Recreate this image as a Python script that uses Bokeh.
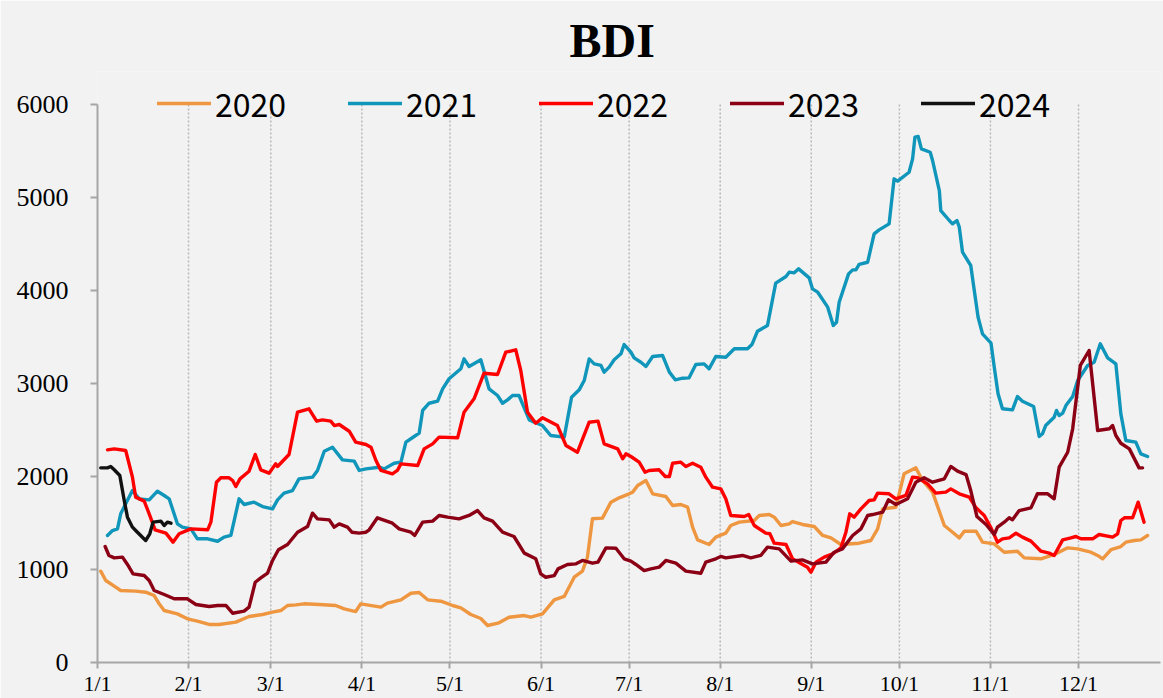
from bokeh.plotting import figure
from bokeh.models import FixedTicker, Legend, LegendItem
from bokeh.embed import file_html
from bokeh.resources import INLINE

# ---- axis data ----
month_days = [0, 31, 59, 90, 120, 151, 181, 212, 243, 273, 304, 334]
month_labels = ["1/1", "2/1", "3/1", "4/1", "5/1", "6/1", "7/1", "8/1", "9/1", "10/1", "11/1", "12/1"]
y_ticks = [0, 1000, 2000, 3000, 4000, 5000, 6000]
years = ["2020", "2021", "2022", "2023", "2024"]

# ---- series (day of year, BDI) ----
days_2020 = [1.1, 2.8, 6.2, 7.9, 13.0, 16.4, 19.3, 21.0, 22.7, 27.2, 30.6, 34.0, 38.0, 41.4, 47.1, 51.6, 56.2,
             59.6, 62.4, 64.7, 67.5, 70.3, 75.5, 81.1, 84.0, 87.9, 89.6, 96.5, 98.7, 103.3, 106.7, 109.5, 112.4,
             116.9, 120.9, 123.7, 127.1, 130.5, 132.8, 136.7, 140.1, 145.3, 147.5, 151.5, 155.5, 158.9, 162.3,
             165.1, 166.8, 168.5, 171.9, 174.8, 177.6, 181.0, 182.2, 183.9, 186.7, 189.0, 193.5, 195.8, 198.6,
             200.9, 202.6, 204.3, 208.2, 210.5, 213.9, 215.6, 218.5, 223.6, 225.3, 228.7, 230.4, 232.7, 235.5,
             236.6, 240.0, 244.0, 246.9, 249.7, 253.1, 259.3, 263.3, 265.6, 267.3, 271.8, 274.6, 278.6, 280.9,
             284.3, 288.3, 291.1, 293.4, 295.1, 299.1, 301.3, 305.3, 308.7, 313.2, 315.5, 321.2, 326.3, 330.3,
             333.7, 338.2, 340.5, 342.2, 345.1, 348.4, 350.1, 353.0, 355.2, 357.5]
bdi_2020 = [982, 882, 810, 774, 767, 756, 720, 631, 559, 523, 470, 444, 409, 409, 434, 495, 516,
            541, 559, 613, 620, 631, 624, 613, 577, 548, 631, 595, 638, 674, 745, 753, 674,
            659, 613, 588, 516, 473, 398, 427, 487, 505, 487, 523, 674, 710, 917,
            982, 1132, 1545, 1552, 1724, 1771, 1814, 1832, 1903, 1957, 1814, 1785, 1688, 1699,
            1670, 1455, 1319, 1269, 1348, 1391, 1473, 1509, 1527, 1581, 1591, 1563, 1473, 1491,
            1516, 1484, 1462, 1366, 1340, 1269, 1283, 1312, 1437, 1652, 1670, 2029, 2093, 1957,
            1832, 1473, 1401, 1340, 1412, 1412, 1294, 1276, 1186, 1197, 1125, 1115, 1169, 1233,
            1222, 1186, 1151, 1115, 1215, 1247, 1294, 1312, 1319, 1366]

days_2021 = [3.4, 5.1, 6.8, 7.9, 9.6, 11.9, 14.2, 17.6, 20.4, 22.7, 24.4, 27.2, 28.9, 31.8, 34.0, 37.5, 40.9,
             43.1, 45.4, 48.2, 49.9, 53.3, 56.2, 59.6, 61.3, 63.5, 66.4, 68.6, 73.2, 74.9, 77.2, 80.0, 83.4,
             87.4, 89.1, 91.4, 95.9, 97.6, 101.0, 103.3, 105.0, 107.8, 109.5, 110.7, 112.9, 115.8, 117.5,
             119.7, 123.7, 124.8, 126.5, 130.5, 133.3, 136.2, 137.9, 139.6, 141.3, 143.5, 147.0, 148.7,
             151.5, 154.3, 158.9, 161.4, 164.0, 165.7, 167.4, 169.1, 171.4, 172.5, 174.2, 175.9, 178.2,
             179.3, 181.6, 182.7, 185.0, 186.7, 189.0, 192.4, 194.7, 196.7, 199.2, 201.4, 203.7, 206.5,
             208.2, 210.5, 213.9, 216.8, 221.3, 222.8, 224.7, 228.1, 230.9, 234.4, 235.5, 237.2, 238.7,
             242.3, 243.4, 245.2, 248.6, 250.5, 251.6, 252.5, 255.7, 257.1, 258.2, 259.3, 262.2, 264.4,
             266.1, 269.5, 271.2, 272.4, 276.3, 277.5, 278.3, 279.4, 280.5, 283.5, 284.3, 286.6, 287.1,
             290.0, 291.1, 292.6, 293.4, 294.5, 297.3, 298.5, 299.8, 301.3, 304.2, 305.3, 306.6, 308.1,
             311.5, 313.2, 314.9, 318.7, 320.6, 321.7, 322.8, 325.7, 326.5, 327.4, 328.6, 329.7, 332.0,
             333.7, 337.1, 339.3, 341.4, 343.9, 346.7, 348.4, 350.1, 353.5, 355.2, 357.5]
bdi_2021 = [1366, 1419, 1437, 1599, 1706, 1849, 1760, 1749, 1842, 1796, 1760, 1491, 1455, 1437, 1330, 1330, 1304,
            1348, 1366, 1760, 1699, 1724, 1677, 1652, 1749, 1821, 1849, 1975, 1993, 2065, 2272, 2315, 2179,
            2165, 2065, 2082, 2100, 2082, 2143, 2154, 2369, 2430, 2466, 2710, 2788, 2810, 2943,
            3051, 3158, 3265, 3183, 3255, 2943, 2871, 2788, 2824, 2871, 2871, 2609, 2584,
            2548, 2441, 2423, 2853, 2932, 3032, 3265, 3211, 3194, 3122, 3176, 3255, 3319,
            3419, 3337, 3276, 3229, 3183, 3290, 3301, 3122, 3040, 3057, 3061, 3204, 3211,
            3158, 3290, 3283, 3373, 3373, 3419, 3563, 3624, 4079, 4151, 4197, 4190, 4233,
            4136, 4018, 3982, 3821, 3624, 3659, 3874, 4179, 4222, 4222, 4280, 4304, 4609,
            4652, 4717, 5201, 5176, 5272, 5416, 5649, 5656, 5523, 5487, 5398, 5075, 4860,
            4753, 4717, 4753, 4681, 4412, 4269, 4000, 3713, 3534, 3434, 3176, 2889, 2728,
            2717, 2860, 2810, 2753, 2430, 2459, 2548, 2638, 2710, 2656, 2681, 2763, 2860,
            3032, 3194, 3229, 3427, 3276, 3211, 2674, 2387, 2369, 2244, 2215]

days_2022 = [3.4, 5.7, 9.6, 11.9, 13.0, 15.9, 17.6, 19.6, 23.3, 25.7, 27.8, 31.8, 37.5, 38.6, 40.5, 42.0, 44.8,
             46.0, 47.1, 48.5, 51.6, 53.7, 55.6, 58.4, 60.7, 61.3, 65.2, 68.1, 72.0, 74.6, 76.6, 79.4, 80.6,
             82.3, 85.7, 87.9, 91.4, 93.1, 94.8, 96.5, 100.4, 102.1, 103.3, 109.0, 111.2, 114.1, 116.3,
             122.6, 124.8, 128.2, 131.6, 136.2, 139.0, 142.4, 144.1, 146.4, 149.2, 151.5, 156.6, 159.5,
             163.4, 167.4, 170.4, 172.5, 177.1, 178.8, 179.9, 181.6, 184.4, 186.4, 187.8, 191.2, 193.3,
             194.7, 195.8, 198.6, 200.3, 202.6, 205.4, 207.1, 209.4, 212.2, 213.9, 215.6, 220.2, 221.7,
             223.6, 227.5, 228.9, 230.4, 234.4, 236.6, 241.7, 242.9, 244.6, 247.4, 250.3, 253.1, 254.8,
             256.1, 257.6, 259.9, 262.7, 264.4, 265.6, 269.5, 271.8, 275.2, 277.5, 279.2, 282.6, 285.4,
             288.8, 290.5, 293.4, 296.8, 299.1, 301.9, 304.2, 306.4, 308.1, 310.4, 312.7, 314.9, 317.8,
             321.2, 324.0, 325.7, 328.6, 331.4, 333.1, 334.8, 338.8, 341.0, 345.6, 347.3, 348.4, 349.6,
             352.4, 354.3, 356.3]
bdi_2022 = [2287, 2297, 2280, 1993, 1778, 1735, 1599, 1427, 1391, 1294, 1384, 1437, 1427, 1509, 1939, 1986, 1986,
            1957, 1892, 1975, 2057, 2237, 2072, 2036, 2136, 2108, 2237, 2692, 2728, 2595, 2609, 2595, 2548,
            2559, 2487, 2369, 2344, 2315, 2172, 2065, 2029, 2065, 2136, 2118, 2297, 2351, 2423,
            2416, 2692, 2835, 3111, 3097, 3337, 3362, 3140, 2692, 2573, 2631, 2548, 2333,
            2261, 2584, 2595, 2351, 2297, 2190, 2244, 2215, 2154, 2046, 2065, 2072, 2000,
            2000, 2143, 2154, 2108, 2143, 2100, 1993, 1885, 1867, 1760, 1581, 1570, 1591,
            1473, 1391, 1384, 1283, 1269, 1115, 1025, 971, 1079, 1133, 1169, 1233, 1401,
            1599, 1563, 1652, 1742, 1749, 1821, 1814, 1760, 1796, 1993, 1986, 1921, 1821,
            1832, 1867, 1814, 1778, 1663, 1581, 1448, 1294, 1330, 1340, 1391, 1348, 1305,
            1197, 1176, 1151, 1319, 1340, 1355, 1330, 1330, 1376, 1348, 1384, 1527, 1556,
            1556, 1724, 1509]

days_2023 = [2.6, 3.9, 5.7, 8.5, 10.2, 12.1, 15.9, 17.6, 19.3, 22.7, 26.1, 30.6, 33.5, 38.0, 40.9, 43.7, 46.0,
             49.9, 51.6, 53.7, 55.6, 57.9, 59.6, 61.6, 64.7, 68.1, 71.5, 73.2, 74.9, 78.9, 80.6, 82.3, 85.1,
             86.6, 89.1, 91.4, 92.5, 95.3, 100.4, 102.7, 106.7, 108.0, 110.7, 114.1, 116.3, 119.2, 123.1,
             126.5, 129.4, 131.6, 134.5, 137.9, 141.8, 145.3, 149.2, 150.9, 152.6, 155.5, 156.8, 160.0,
             162.9, 165.1, 168.5, 170.4, 173.1, 176.5, 179.3, 181.6, 183.3, 186.1, 188.4, 191.2, 193.5,
             196.9, 200.3, 205.4, 207.1, 210.5, 212.2, 213.9, 219.6, 222.4, 225.8, 228.1, 232.1, 236.1,
             240.0, 243.4, 248.0, 250.8, 253.6, 257.1, 259.9, 262.2, 263.9, 267.3, 269.3, 271.8, 275.8,
             278.6, 281.4, 284.3, 288.3, 290.5, 292.8, 295.7, 297.3, 299.4, 302.5, 305.3, 306.4, 308.7,
             310.4, 311.5, 313.8, 317.8, 320.0, 323.5, 325.7, 327.4, 330.3, 332.0, 334.6, 337.6, 340.5,
             344.5, 345.6, 346.7, 348.4, 351.3, 354.6, 355.8]
bdi_2023 = [1247, 1151, 1125, 1133, 1054, 953, 935, 882, 774, 731, 685, 685, 624, 602, 613, 613, 530,
            552, 595, 863, 910, 960, 1097, 1212, 1269, 1401, 1462, 1606, 1545, 1534, 1455, 1491, 1455,
            1401, 1391, 1401, 1427, 1556, 1498, 1437, 1401, 1366, 1509, 1520, 1581, 1563, 1545,
            1581, 1634, 1556, 1520, 1401, 1355, 1176, 1115, 953, 917, 935, 1007, 1054,
            1061, 1097, 1068, 1079, 1233, 1229, 1115, 1090, 1054, 989, 1007, 1025, 1097,
            1068, 982, 960, 1079, 1115, 1140, 1125, 1151, 1125, 1151, 1240, 1222, 1090,
            1104, 1061, 1079, 1186, 1222, 1366, 1437, 1581, 1591, 1616, 1749, 1699, 1760,
            1939, 1986, 1939, 1975, 2108, 2057, 2021, 1849, 1570, 1484, 1376, 1455, 1509,
            1556, 1534, 1634, 1663, 1814, 1814, 1760, 2100, 2261, 2513, 3194, 3355, 2495,
            2513, 2548, 2441, 2358, 2297, 2093, 2093]

days_2024 = [1.1, 3.4, 4.5, 5.7, 7.6, 9.1, 10.2, 11.9, 13.0, 16.4, 17.8, 18.9, 21.6, 22.7, 23.8, 25.0]
bdi_2024 = [2093, 2093, 2108, 2072, 2011, 1742, 1563, 1455, 1419, 1312, 1384, 1509, 1520, 1473, 1509, 1498]

series_days = [days_2020, days_2021, days_2022, days_2023, days_2024]
series_vals = [bdi_2020, bdi_2021, bdi_2022, bdi_2023, bdi_2024]
colors = ["#EE9640", "#1096BA", "#FF0000", "#8B0014", "#111111"]

SERIF = "Liberation Serif"
AXIS_GRAY = "#a6a6a6"

# frame: left 97, right 1160, top 71, bottom 662 (93 px per 1000)
p = figure(width=1163, height=698, x_range=(0, 361.9), y_range=(0, 6355),
           output_backend="svg", toolbar_location=None,
           min_border_left=97, min_border_right=3, min_border_top=71, min_border_bottom=36,
           background_fill_color="#f2f2f2", border_fill_color="#f2f2f2",
           outline_line_color=None)

p.title.text = "BDI"
p.title.text_font = SERIF
p.title.text_font_style = "bold"
p.title.text_font_size = "48px"
p.title.text_color = "#000000"
p.title.align = "left"
p.title.offset = 472
p.title.standoff = 10

# axes
xa = p.xaxis[0]
xa.ticker = FixedTicker(ticks=month_days)
xa.major_label_overrides = {d: lab for d, lab in zip(month_days, month_labels)}
xa.minor_tick_line_color = None
xa.major_tick_in = 0
xa.major_tick_out = 6
xa.major_label_standoff = 2
xa.axis_line_color = AXIS_GRAY
xa.axis_line_width = 2
xa.major_tick_line_color = AXIS_GRAY
xa.major_tick_line_width = 2
xa.major_label_text_font = SERIF
xa.major_label_text_font_size = "22px"
xa.major_label_text_color = "#000000"

ya = p.yaxis[0]
ya.ticker = FixedTicker(ticks=y_ticks)
ya.bounds = (y_ticks[0], y_ticks[-1])
ya.minor_tick_line_color = None
ya.major_tick_in = 0
ya.major_tick_out = 7
ya.major_label_standoff = 22
ya.axis_line_color = AXIS_GRAY
ya.axis_line_width = 2
ya.major_tick_line_color = AXIS_GRAY
ya.major_tick_line_width = 2
ya.major_label_text_font = SERIF
ya.major_label_text_font_size = "26px"
ya.major_label_text_color = "#000000"

p.ygrid.grid_line_color = None
p.xgrid.grid_line_color = None

# vertical dotted month gridlines, spanning 0..6000 only
grid_x = month_days[1:]
p.segment(x0=grid_x, y0=[y_ticks[0]] * len(grid_x), x1=grid_x, y1=[y_ticks[-1]] * len(grid_x),
          line_color="#b8b8b8", line_width=1.5, line_dash="2 2")

renderers = []
for d, v, c in zip(series_days, series_vals, colors):
    r = p.line(d, v, line_color=c, line_width=3.4, line_join="round", line_cap="round")
    renderers.append(r)

legend = Legend(items=[LegendItem(label=y, renderers=[r]) for y, r in zip(years, renderers)],
                orientation="horizontal", location=(60, 536),
                glyph_width=54, glyph_height=20, label_standoff=4, label_width=80,
                label_height=20, spacing=53, padding=0, margin=0,
                label_text_font="Noto Sans CJK SC", label_text_font_size="32px",
                label_text_color="#000000",
                background_fill_alpha=0, border_line_alpha=0)
p.add_layout(legend)

open("out.html", "w").write(file_html(p, INLINE))
